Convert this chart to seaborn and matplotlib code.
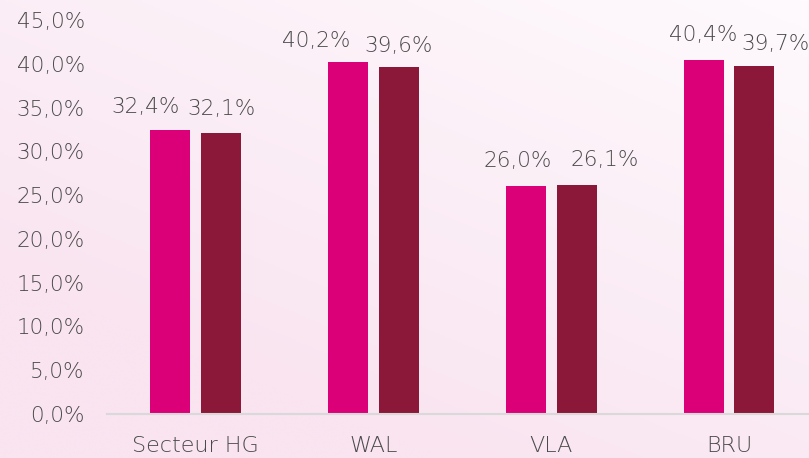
import numpy as np
import pandas as pd
import matplotlib
matplotlib.use("Agg")
import matplotlib.pyplot as plt
from matplotlib.colors import LinearSegmentedColormap
from matplotlib.ticker import FuncFormatter, MultipleLocator
import seaborn as sns

# Data
regions = ["Secteur HG", "WAL", "VLA", "BRU"]
series_names = ["Série 1", "Série 2"]
values_1 = [32.4, 40.2, 26.0, 40.4]
values_2 = [32.1, 39.6, 26.1, 39.7]

colors = ["#DC0078", "#8B1838"]
text_color = "#4A4A4A"

df = pd.DataFrame({
    "region": regions * 2,
    "serie": [series_names[0]] * 4 + [series_names[1]] * 4,
    "value": values_1 + values_2,
})

sns.set_theme(style="white")
plt.rcParams["font.family"] = ["DejaVu Sans"]
plt.rcParams["font.weight"] = "light"

fig = plt.figure(figsize=(8.09, 4.58), dpi=100)

# Soft pink background gradient (pinker at bottom-left, near white at top-right)
bg = fig.add_axes([0, 0, 1, 1])
yy, xx = np.mgrid[0:1:200j, 0:1:300j]
grad = np.clip(0.55 * (1 - xx) + 0.75 * yy, 0, 1)
cmap = LinearSegmentedColormap.from_list("bg", ["#FEFAFD", "#F9E4F0"])
bg.imshow(grad, cmap=cmap, aspect="auto", extent=[0, 1, 0, 1], origin="upper")
bg.set_axis_off()

ax = fig.add_axes([107 / 809, 44 / 458, 702 / 809, 394 / 458])
ax.patch.set_alpha(0)

sns.barplot(data=df, x="region", y="value", hue="serie", palette=colors,
            width=0.573, gap=0.214, legend=False, ax=ax, saturation=1,
            linewidth=0)

ax.set_ylim(0, 45)
ax.set_xlim(-0.5, 3.45)
ax.yaxis.set_major_locator(MultipleLocator(5))
ax.yaxis.set_major_formatter(FuncFormatter(lambda v, p: f"{v:.1f}%".replace(".", ",")))
ax.set_xlabel("")
ax.set_ylabel("")
for s in ["top", "right", "left"]:
    ax.spines[s].set_visible(False)
ax.spines["bottom"].set_color("#D9D9D9")
ax.spines["bottom"].set_linewidth(1.5)
ax.tick_params(axis="y", length=0, pad=16, labelsize=15.5, labelcolor=text_color)
ax.tick_params(axis="x", length=0, pad=16, labelsize=16, labelcolor=text_color)

# Value labels above bars, with small horizontal nudges (points)
nudges = [[-18, 0], [-23, 0], [-6, 20], [0, 15]]
lifts = [[17, 17], [15, 15], [18, 18], [18, 16]]
for j, cont in enumerate(ax.containers):
    for i, bar in enumerate(cont):
        v = [values_1, values_2][j][i]
        ax.annotate(f"{v:.1f}%".replace(".", ","),
                    (bar.get_x() + bar.get_width() / 2, v),
                    xytext=(nudges[i][j], lifts[i][j]), textcoords="offset points",
                    ha="center", va="center", fontsize=15.5, color=text_color)

fig.savefig("out.png", dpi=100)
